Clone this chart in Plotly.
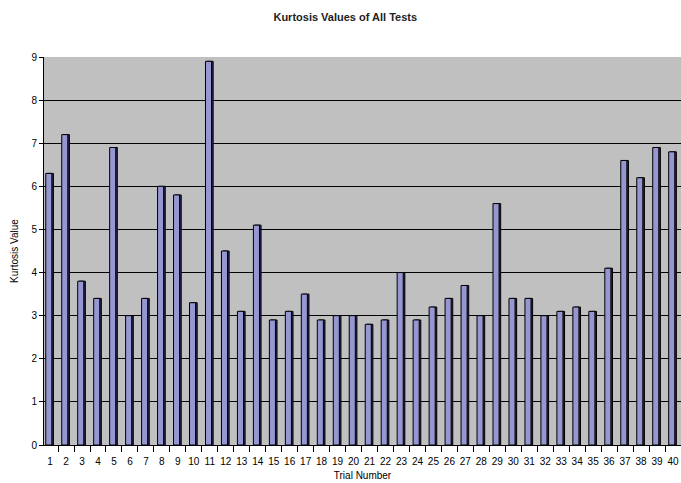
import plotly.graph_objects as go

trials = [str(i) for i in range(1, 41)]
kurtosis = [6.3, 7.2, 3.8, 3.4, 6.9, 3.0, 3.4, 6.0, 5.8, 3.3,
            8.9, 4.5, 3.1, 5.1, 2.9, 3.1, 3.5, 2.9, 3.0, 3.0,
            2.8, 2.9, 4.0, 2.9, 3.2, 3.4, 3.7, 3.0, 5.6, 3.4,
            3.4, 3.0, 3.1, 3.2, 3.1, 4.1, 6.6, 6.2, 6.9, 6.8]

fig = go.Figure()
# dark side of each bar (pseudo-3D depth)
fig.add_trace(go.Bar(x=trials, y=kurtosis, width=0.38, offset=-0.17,
                     marker=dict(color="#2b2b55", line=dict(color="black", width=1)),
                     hoverinfo="skip", showlegend=False))
# front face
fig.add_trace(go.Bar(x=trials, y=kurtosis, width=0.38, offset=-0.27,
                     marker=dict(color="#9696d2", line=dict(color="black", width=1)),
                     showlegend=False))

fig.update_layout(
    width=681, height=483,
    barmode="overlay",
    paper_bgcolor="white",
    plot_bgcolor="#c0c0c0",
    margin=dict(l=44, r=0, t=57, b=38),
    font=dict(family="Liberation Sans, Arial, sans-serif", size=10, color="black"),
    title=dict(text="<b>Kurtosis Values of All Tests</b>", x=0.507, xanchor="center",
               y=0.965, yanchor="middle", font=dict(size=11, color="#222")),
)
fig.update_xaxes(
    type="category", range=[-0.38, 39.5], automargin=False,
    tickson="boundaries", ticks="outside", ticklen=6, tickcolor="black",
    ticklabelstandoff=7,
    showline=True, linecolor="black", linewidth=1, showgrid=False,
    tickangle=0, tickfont=dict(size=10, family="Liberation Sans Narrow, Liberation Sans, Arial"),
    title=dict(text="Trial Number", font=dict(size=10), standoff=5),
)
fig.update_yaxes(
    range=[0, 9], dtick=1, ticks="outside", ticklen=4, tickcolor="black",
    automargin=False,
    showline=True, linecolor="black", linewidth=1,
    showgrid=True, gridcolor="black", gridwidth=1, zeroline=False,
    tickfont=dict(size=10),
    title=dict(text="Kurtosis Value", font=dict(size=10), standoff=10),
)

fig.write_html(
    "out.html",
    config={"displayModeBar": False},
    post_script="document.body.style.margin='0';document.body.style.overflow='hidden';",
)
